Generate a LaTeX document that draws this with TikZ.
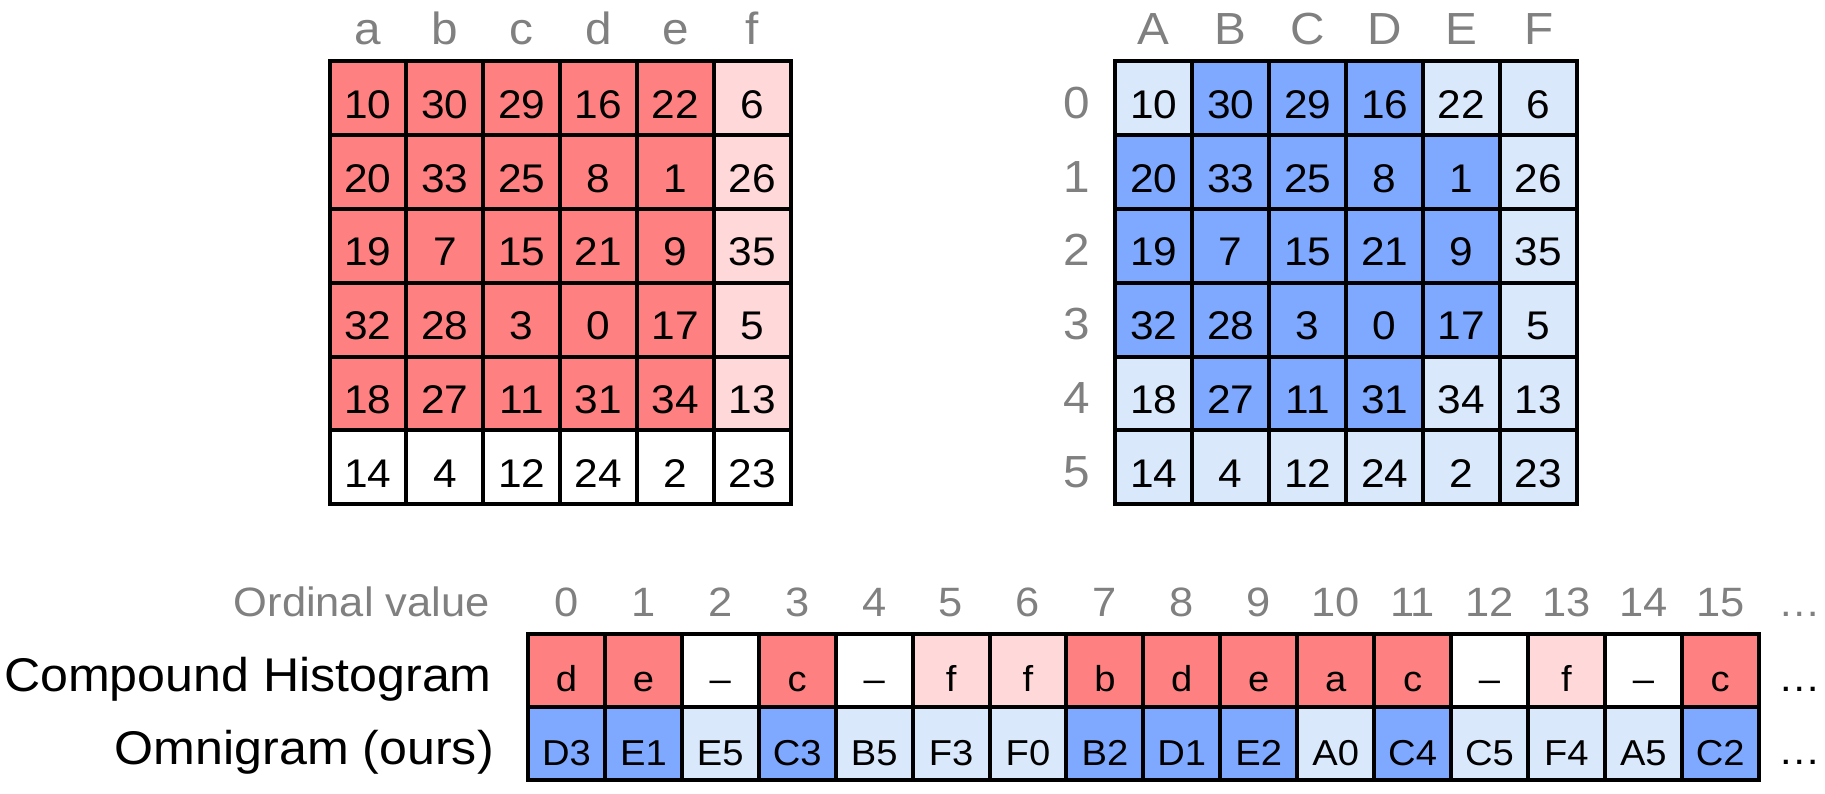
\documentclass[tikz,border=0pt]{standalone}
\usepackage{fontspec}
\setmainfont[FakeStretch=1.06]{Liberation Sans}
\definecolor{cRed}{HTML}{FF8080}
\definecolor{cPink}{HTML}{FFD9D9}
\definecolor{cBlue}{HTML}{7FA9FF}
\definecolor{cLight}{HTML}{DAE8FC}
\definecolor{cGrey}{HTML}{808080}
\newcommand\fsz[1]{\fontsize{#1}{#1}\selectfont}
\begin{document}
\begin{tikzpicture}[x=1pt,y=-1pt,
  gcell/.style={draw=black, line width=4pt, minimum width=76.9pt, minimum height=73.8pt,
    inner sep=0pt, outer sep=0pt, anchor=north west, text height=40.2pt, text depth=0pt, font=\fsz{40}},
  scell/.style={draw=black, line width=4pt, minimum width=76.92pt, minimum height=73.3pt,
    inner sep=0pt, outer sep=0pt, anchor=north west, text height=42.7pt, text depth=0pt, font=\fsz{36}},
  collab/.style={anchor=base, inner sep=0pt, text=cGrey, font=\fsz{45}},
  ordlab/.style={anchor=base, inner sep=0pt, text=cGrey, font=\fsz{41}},
  rowname/.style={anchor=base east, inner sep=0pt, font=\fsz{47.3}},
  dots/.style={anchor=base west, inner sep=0pt, font=\fsz{40}},
]
\useasboundingbox (0,0) rectangle (1825,793);

% left grid
\foreach \v [count=\i from 0] in {10,30,29,16,22,6,20,33,25,8,1,26,19,7,15,21,9,35,32,28,3,0,17,5,18,27,11,31,34,13,14,4,12,24,2,23}{
  \pgfmathtruncatemacro\r{int(\i/6)}
  \pgfmathtruncatemacro\c{mod(\i,6)}
  \ifnum\r=5 \def\f{white}\else\ifnum\c=5 \def\f{cPink}\else\def\f{cRed}\fi\fi
  \node[gcell, fill=\f] (L-\r-\c) at (329.5+\c*76.85, 61.3+\r*73.8) {\v};
}
\foreach \l [count=\c from 0] in {a,b,c,d,e,f}
  \node[collab] (la-\c) at (329.5+38.4+\c*76.85, 44.5) {\l};

% right grid
\foreach \v [count=\i from 0] in {10,30,29,16,22,6,20,33,25,8,1,26,19,7,15,21,9,35,32,28,3,0,17,5,18,27,11,31,34,13,14,4,12,24,2,23}{
  \pgfmathtruncatemacro\r{int(\i/6)}
  \pgfmathtruncatemacro\c{mod(\i,6)}
  \def\f{cLight}
  \ifnum\r<5 \ifnum\c>0 \ifnum\c<4 \def\f{cBlue}\fi\fi\fi
  \ifnum\r>0 \ifnum\r<4 \ifnum\c<5 \def\f{cBlue}\fi\fi\fi
  \node[gcell, fill=\f] (R-\r-\c) at (1115.3+\c*76.95, 61.3+\r*73.8) {\v};
}
\foreach \l [count=\c from 0] in {A,B,C,D,E,F}
  \node[collab] (ua-\c) at (1115.3+38.5+\c*76.95, 44.5) {\l};
\foreach \r in {0,...,5}
  \node[collab] (rl-\r) at (1076.7, 61.3+\r*73.8+57) {\r};

% bottom strip
\node[ordlab, anchor=base east] (ordname) at (490, 616.7) {Ordinal value};
\node[rowname] (chname) at (492, 691.7) {Compound Histogram};
\node[rowname] (omname) at (494, 764) {Omnigram (ours)};
\foreach \h/\hf/\o/\of [count=\i from 0] in {d/cRed/D3/cBlue, e/cRed/E1/cBlue, –/white/E5/cLight, c/cRed/C3/cBlue,
  –/white/B5/cLight, f/cPink/F3/cLight, f/cPink/F0/cLight, b/cRed/B2/cBlue, d/cRed/D1/cBlue, e/cRed/E2/cBlue,
  a/cRed/A0/cLight, c/cRed/C4/cBlue, –/white/C5/cLight, f/cPink/F4/cLight, –/white/A5/cLight, c/cRed/C2/cBlue}{
  \node[ordlab] (ord-\i) at (528+38.46+\i*76.92, 616.7) {\i};
  \node[scell, fill=\hf] (H-\i) at (528+\i*76.92, 633.7) {\h};
  \node[scell, fill=\of] (O-\i) at (528+\i*76.92, 707) {\o};
}
\node[dots, text=cGrey] (dots0) at (1778.4, 616.7) {…};
\node[dots] (dots1) at (1778.4, 691.7) {…};
\node[dots] (dots2) at (1778.4, 764) {…};
\end{tikzpicture}
\end{document}
